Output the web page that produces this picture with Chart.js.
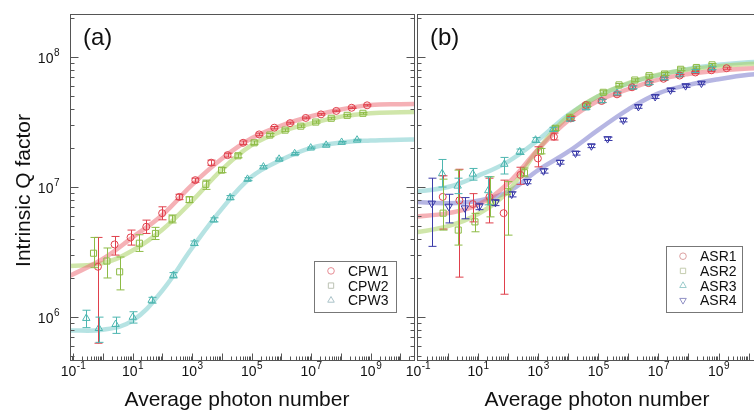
<!DOCTYPE html>
<html>
<head>
<meta charset="utf-8">
<script src="https://cdn.jsdelivr.net/npm/chart.js@4.4.1/dist/chart.umd.min.js"></script>
<style>
  html, body { margin: 0; padding: 0; background: #fff; overflow: hidden; }
  #wrap { position: relative; width: 754px; height: 410px; overflow: hidden; }
  #panelA { position: absolute; left: 0; top: 0; }
  #panelB { position: absolute; left: 400px; top: 0; }
</style>
</head>
<body>
<div id="wrap">
  <canvas id="panelA" width="420" height="410"></canvas>
  <canvas id="panelB" width="380" height="410"></canvas>
</div>
<script>
// ---- data ----
const xTickExps = [-1, 1, 3, 5, 7, 9];
const yTickExps = [6, 7, 8];

// panel (a): coplanar waveguides
const cpw1X = [0.69, 2.5, 8.6, 29, 99, 375, 1290, 4400, 15600, 52000, 1.8e5, 5.8e5, 1.96e6, 6.6e6, 2.15e7, 7.0e7, 2.3e8, 7.6e8];
const cpw1Y = [2.44e6, 3.62e6, 4.1e6, 4.95e6, 6.3e6, 8.4e6, 1.13e7, 1.54e7, 1.76e7, 2.19e7, 2.54e7, 2.86e7, 3.1e7, 3.4e7, 3.62e7, 3.85e7, 4.07e7, 4.25e7];
const cpw1Lo = [6.3e5, 3.0e6, 3.58e6, 4.4e6, 5.6e6, 8.0e6, 1.09e7, 1.47e7, 1.7e7, 2.12e7, 2.48e7, 2.8e7, 3.05e7, 3.35e7, 3.57e7, 3.8e7, 4.02e7, 4.2e7];
const cpw1Hi = [4.1e6, 4.17e6, 4.67e6, 5.57e6, 7.05e6, 8.8e6, 1.17e7, 1.61e7, 1.82e7, 2.26e7, 2.6e7, 2.92e7, 3.15e7, 3.45e7, 3.67e7, 3.9e7, 4.12e7, 4.3e7];

const cpw2X = [0.49, 1.38, 3.7, 17, 59, 214, 811, 2900, 9800, 3.5e4, 1.22e5, 4.1e5, 1.34e6, 4.5e6, 1.43e7, 4.75e7, 1.63e8, 5.5e8];
const cpw2Y = [3.1e6, 2.7e6, 2.23e6, 3.7e6, 4.4e6, 5.7e6, 8.0e6, 1.05e7, 1.35e7, 1.74e7, 2.19e7, 2.51e7, 2.74e7, 2.94e7, 3.16e7, 3.38e7, 3.56e7, 3.69e7];
const cpw2Lo = [2.4e6, 2.0e6, 1.62e6, 3.2e6, 3.95e6, 5.3e6, 7.6e6, 9.6e6, 1.29e7, 1.68e7, 2.12e7, 2.44e7, 2.68e7, 2.88e7, 3.1e7, 3.32e7, 3.5e7, 3.63e7];
const cpw2Hi = [4.1e6, 3.4e6, 2.9e6, 4.3e6, 4.9e6, 6.1e6, 8.4e6, 1.13e7, 1.41e7, 1.8e7, 2.26e7, 2.58e7, 2.8e7, 3.0e7, 3.22e7, 3.44e7, 3.62e7, 3.75e7];

const cpw3X = [0.28, 0.74, 2.7, 10.2, 44, 237, 1190, 5300, 1.9e4, 7.3e4, 2.5e5, 8.4e5, 2.8e6, 9.7e6, 3.2e7, 1.06e8, 3.5e8];
const cpw3Y = [9.8e5, 8.2e5, 8.8e5, 1.0e6, 1.35e6, 2.1e6, 3.7e6, 5.6e6, 8.3e6, 1.15e7, 1.43e7, 1.64e7, 1.81e7, 2.0e7, 2.1e7, 2.21e7, 2.3e7];
const cpw3Lo = [8.3e5, 6.4e5, 7.5e5, 9.0e5, 1.28e6, 2.0e6, 3.55e6, 5.4e6, 8.0e6, 1.12e7, 1.4e7, 1.61e7, 1.78e7, 1.97e7, 2.07e7, 2.18e7, 2.27e7];
const cpw3Hi = [1.13e6, 1.0e6, 1.0e6, 1.1e6, 1.42e6, 2.2e6, 3.85e6, 5.8e6, 8.6e6, 1.18e7, 1.46e7, 1.67e7, 1.84e7, 2.03e7, 2.13e7, 2.24e7, 2.33e7];

// fitted curves, sampled once per decade
const fitX = [0.07, 1, 10, 100, 1e3, 1e4, 1e5, 1e6, 1e7, 1e8, 1e9, 1e10, 5e10];
const fitCpw1 = [2.05e6, 2.8e6, 4.1e6, 6.1e6, 1.04e7, 1.65e7, 2.37e7, 2.97e7, 3.5e7, 3.95e7, 4.27e7, 4.33e7, 4.35e7];
const fitCpw2 = [2.47e6, 2.6e6, 3.25e6, 4.7e6, 7.8e6, 1.36e7, 2.1e7, 2.68e7, 3.08e7, 3.48e7, 3.7e7, 3.76e7, 3.78e7];
const fitCpw3 = [7.9e5, 8.0e5, 9.4e5, 1.6e6, 3.4e6, 6.8e6, 1.2e7, 1.62e7, 2.0e7, 2.2e7, 2.28e7, 2.31e7, 2.32e7];

// panel (b): ASR resonators
const asr1X = [0.67, 2.4, 6.7, 24, 71, 258, 980, 3350, 1.21e4, 3.85e4, 1.29e5, 4.2e5, 1.33e6, 4.7e6, 1.48e7, 5.1e7, 1.7e8, 5.8e8, 1.85e9];
const asr1Y = [8.4e6, 7.9e6, 7.4e6, 8.4e6, 6.3e6, 1.24e7, 1.66e7, 2.44e7, 3.37e7, 4.27e7, 4.59e7, 5.16e7, 5.85e7, 6.3e7, 6.8e7, 7.2e7, 7.6e7, 7.9e7, 8.2e7];
const asr1Lo = [4.75e6, 2.03e6, 5.4e6, 5.3e6, 1.5e6, 1.05e7, 1.43e7, 2.3e7, 3.25e7, 4.15e7, 4.46e7, 5.02e7, 5.7e7, 6.15e7, 6.65e7, 7.05e7, 7.45e7, 7.75e7, 8.05e7];
const asr1Hi = [1.22e7, 1.37e7, 8.9e6, 1.17e7, 1.13e7, 1.42e7, 2.04e7, 2.6e7, 3.5e7, 4.4e7, 4.72e7, 5.3e7, 6.0e7, 6.45e7, 6.95e7, 7.35e7, 7.75e7, 8.05e7, 8.35e7];

const asr2X = [0.69, 2.2, 7.9, 25.6, 97, 351, 1200, 3760, 1.12e4, 4.27e4, 1.47e5, 4.9e5, 1.64e6, 4.9e6, 1.6e7, 5.5e7, 1.84e8, 6.1e8];
const asr2Y = [6.3e6, 4.67e6, 5.4e6, 7.7e6, 9.2e6, 1.29e7, 1.89e7, 2.83e7, 3.44e7, 4.28e7, 5.35e7, 6.1e7, 6.65e7, 7.18e7, 7.4e7, 8.04e7, 8.3e7, 8.7e7];
const asr2Lo = [4.67e6, 3.58e6, 4.53e6, 5.9e6, 4.27e6, 1.2e7, 1.8e7, 2.72e7, 3.33e7, 4.16e7, 5.2e7, 5.95e7, 6.5e7, 7.0e7, 7.2e7, 7.85e7, 8.1e7, 8.5e7];
const asr2Hi = [1.15e7, 1.35e7, 6.28e6, 1.2e7, 1.1e7, 1.4e7, 1.98e7, 2.94e7, 3.55e7, 4.4e7, 5.5e7, 6.25e7, 6.8e7, 7.36e7, 7.6e7, 8.24e7, 8.5e7, 8.9e7];

const asr3X = [0.64, 2.1, 6.7, 22, 75, 244, 820, 3200, 1.15e4, 3.85e4, 1.29e5, 4.2e5, 1.4e6, 4.7e6, 1.58e7, 5.0e7, 1.7e8, 5.9e8];
const asr3Y = [1.27e7, 1.02e7, 1.26e7, 9.4e6, 1.5e7, 1.87e7, 2.3e7, 2.78e7, 3.32e7, 4.07e7, 4.6e7, 5.26e7, 5.85e7, 6.3e7, 6.85e7, 7.3e7, 7.8e7, 8.2e7];
const asr3Lo = [1.0e7, 8.9e6, 1.13e7, 7.3e6, 1.26e7, 1.78e7, 2.2e7, 2.68e7, 3.22e7, 3.96e7, 4.47e7, 5.12e7, 5.7e7, 6.15e7, 6.7e7, 7.12e7, 7.6e7, 8.0e7];
const asr3Hi = [1.63e7, 1.17e7, 1.39e7, 1.2e7, 1.69e7, 1.96e7, 2.4e7, 2.88e7, 3.42e7, 4.18e7, 4.73e7, 5.4e7, 6.0e7, 6.45e7, 7.0e7, 7.48e7, 8.0e7, 8.4e7];

const asr4X = [0.29, 1.06, 3.65, 11, 38, 132, 442, 1510, 5300, 1.75e4, 5.9e4, 2.04e5, 6.8e5, 2.16e6, 7.8e6, 2.54e7, 8.05e7, 2.7e8];
const asr4Y = [7.5e6, 7.1e6, 6.9e6, 7.1e6, 7.6e6, 8.8e6, 1.1e7, 1.33e7, 1.55e7, 1.82e7, 2.07e7, 2.35e7, 3.27e7, 4.15e7, 4.95e7, 5.57e7, 6.0e7, 6.28e7];
const asr4Lo = [3.5e6, 5.3e6, 5.7e6, 6.7e6, 7.2e6, 8.4e6, 1.06e7, 1.28e7, 1.5e7, 1.76e7, 2.01e7, 2.28e7, 3.17e7, 4.03e7, 4.8e7, 5.42e7, 5.84e7, 6.12e7];
const asr4Hi = [1.17e7, 8.8e6, 8.3e6, 7.5e6, 8.0e6, 9.2e6, 1.14e7, 1.38e7, 1.6e7, 1.88e7, 2.13e7, 2.42e7, 3.37e7, 4.27e7, 5.1e7, 5.72e7, 6.16e7, 6.44e7];

const fitAsr1 = [5.9e6, 6.3e6, 7.3e6, 1.07e7, 1.95e7, 3.25e7, 4.6e7, 5.65e7, 6.7e7, 7.4e7, 7.85e7, 8.15e7, 8.25e7];
const fitAsr2 = [4.45e6, 5.0e6, 6.2e6, 9.3e6, 1.95e7, 3.5e7, 5.0e7, 6.3e7, 7.3e7, 8.0e7, 8.5e7, 8.85e7, 8.95e7];
const fitAsr3 = [9.2e6, 1.0e7, 1.22e7, 1.57e7, 2.3e7, 3.6e7, 5.0e7, 6.25e7, 7.25e7, 8.1e7, 8.7e7, 9.1e7, 9.2e7];
const fitAsr4 = [7.7e6, 7.5e6, 7.85e6, 9.2e6, 1.35e7, 1.87e7, 2.75e7, 3.96e7, 5.25e7, 6.1e7, 6.75e7, 7.3e7, 7.45e7];

// ---- styling ----
const FONT = '"Liberation Sans", Arial, Helvetica, sans-serif';
const colors = {
    red: '#e0404c', green: '#8dbb45', cyan: '#4db6b0', blue: '#3a3aa8',
};
const fitColors = {
    red: 'rgba(236, 100, 110, 0.5)', green: 'rgba(170, 210, 100, 0.55)',
    cyan: 'rgba(110, 200, 200, 0.5)', blue: 'rgba(110, 110, 200, 0.5)',
};

function points(xs, ys, lo, hi) {
    return xs.map((x, i) => ({ x, y: ys[i], lo: lo[i], hi: hi[i] }));
}
function curve(xs, ys) {
    return xs.map((x, i) => ({ x, y: ys[i] }));
}

function markerSet(label, data, color, style, legendColor, rotation = 0) {
    return {
        label, data, errorBars: true, legendColor,
        showLine: false,
        borderColor: color, backgroundColor: 'transparent',
        pointStyle: style, pointRotation: rotation,
        pointRadius: style === 'circle' ? 3.5 : 4.3,
        pointBorderWidth: 1,
        order: 1,
    };
}
function fitSet(data, color) {
    return {
        data, showLine: true, fit: true,
        borderColor: color, borderWidth: 4.5,
        pointRadius: 0, tension: 0.4,
        order: 2,
    };
}

// superscript power-of-ten label drawn on the canvas
function drawPow(ctx, exp, x, baseY, align) {
    ctx.font = `14px ${FONT}`;
    const w1 = ctx.measureText('10').width;
    ctx.font = `10px ${FONT}`;
    const w2 = ctx.measureText(String(exp)).width;
    const left = align === 'center' ? x - (w1 + w2) / 2 : x - (w1 + w2);
    ctx.textAlign = 'left';
    ctx.textBaseline = 'alphabetic';
    ctx.font = `14px ${FONT}`;
    ctx.fillText('10', left, baseY);
    ctx.font = `10px ${FONT}`;
    ctx.fillText(String(exp), left + w1 + 0.5, baseY - 7);
}

const decor = {
    id: 'decor',
    afterDatasetsDraw(chart) {
        const { ctx, chartArea: a, scales: { x, y } } = chart;
        ctx.save();
        ctx.beginPath();
        ctx.rect(a.left, a.top, a.right - a.left, a.bottom - a.top);
        ctx.clip();
        ctx.lineWidth = 1;
        chart.data.datasets.forEach(ds => {
            if (!ds.errorBars) return;
            ctx.strokeStyle = ds.borderColor;
            ds.data.forEach(p => {
                const px = Math.round(x.getPixelForValue(p.x)) + 0.5;
                const top = y.getPixelForValue(p.hi);
                const bot = y.getPixelForValue(p.lo);
                ctx.beginPath();
                ctx.moveTo(px, top); ctx.lineTo(px, bot);
                ctx.moveTo(px - 4, top); ctx.lineTo(px + 4, top);
                ctx.moveTo(px - 4, bot); ctx.lineTo(px + 4, bot);
                ctx.stroke();
            });
        });
        ctx.restore();
    },
    afterDraw(chart, args, opts) {
        const { ctx, chartArea: a, scales: { x, y } } = chart;
        ctx.save();
        ctx.strokeStyle = '#555';
        ctx.lineWidth = 1;
        const L = Math.round(a.left) + 0.5, R = Math.round(a.right) - 0.5;
        const T = Math.round(a.top) + 0.5, B = Math.round(a.bottom) - 0.5;
        ctx.strokeRect(L, T, R - L, B - T);

        // inward ticks
        ctx.beginPath();
        for (let e = -2; e <= 11; e++) {
            for (let k = 1; k <= 9; k++) {
                const v = k * Math.pow(10, e);
                const px = x.getPixelForValue(v);
                if (px > a.left + 1 && px < a.right - 1) {
                    const len = k === 1 ? 7 : 4;
                    const xx = Math.round(px) + 0.5;
                    ctx.moveTo(xx, B); ctx.lineTo(xx, B - len);
                }
                const py = y.getPixelForValue(v);
                if (py > a.top + 1 && py < a.bottom - 1) {
                    const len = k === 1 ? 8 : 4;
                    const yy = Math.round(py) + 0.5;
                    ctx.moveTo(L, yy); ctx.lineTo(L + len, yy);
                    ctx.moveTo(R, yy); ctx.lineTo(R - len, yy);
                }
            }
        }
        ctx.stroke();

        ctx.fillStyle = '#111';
        xTickExps.forEach(e => drawPow(ctx, e, x.getPixelForValue(Math.pow(10, e)), a.bottom + 15, 'center'));
        if (opts.yLabels) {
            yTickExps.forEach(e => drawPow(ctx, e, a.left - 11, y.getPixelForValue(Math.pow(10, e)) + 6, 'right'));
            ctx.save();
            ctx.translate(30, (a.top + a.bottom) / 2 + 3);
            ctx.rotate(-Math.PI / 2);
            ctx.font = `21px ${FONT}`;
            ctx.textAlign = 'center';
            ctx.fillText('Intrinsic Q factor', 0, 0);
            ctx.restore();
        }
        ctx.font = `21px ${FONT}`;
        ctx.textAlign = 'center';
        ctx.fillText('Average photon number', a.left + opts.titleX, 406);

        ctx.font = `24px ${FONT}`;
        ctx.textAlign = 'left';
        ctx.fillText(opts.panel, a.left + 13, 45);

        // legend box
        const sets = chart.data.datasets.filter(d => d.errorBars);
        const bx = a.left + opts.legendX, bw = opts.legendW;
        const bh = sets.length * 14.7 + 7;
        const by = a.bottom - 49 - bh;
        ctx.strokeStyle = '#777';
        ctx.strokeRect(Math.round(bx) + 0.5, Math.round(by) + 0.5, bw, Math.round(bh));
        ctx.font = `14px ${FONT}`;
        sets.forEach((d, i) => {
            const base = by + 15 + i * 14.7;
            ctx.fillStyle = '#111';
            ctx.fillText(d.label, bx + 34, base);
            ctx.strokeStyle = d.legendColor;
            ctx.fillStyle = 'rgba(0, 0, 0, 0)';
            ctx.lineWidth = 1;
            Chart.helpers.drawPoint(ctx, {
                pointStyle: d.pointStyle, rotation: d.pointRotation,
                radius: d.pointStyle === 'circle' ? 3.3 : 3.8, borderWidth: 1,
            }, bx + 17, base - 5);
        });
        ctx.restore();
    },
};

function makeChart(id, datasets, xMin, padding, opts) {
    return new Chart(document.getElementById(id), {
        type: 'scatter',
        data: { datasets },
        options: {
            responsive: false,
            animation: false,
            events: [],
            layout: { padding },
            scales: {
                x: { type: 'logarithmic', display: false, min: xMin, max: Math.pow(10, 10.48) },
                y: { type: 'logarithmic', display: false, min: 4.6e5, max: 2.14e8 },
            },
            plugins: {
                legend: { display: false },
                tooltip: { enabled: false },
                decor: opts,
            },
        },
        plugins: [decor],
    });
}

makeChart('panelA', [
    markerSet('CPW1', points(cpw1X, cpw1Y, cpw1Lo, cpw1Hi), colors.red, 'circle', '#e58a92'),
    markerSet('CPW2', points(cpw2X, cpw2Y, cpw2Lo, cpw2Hi), colors.green, 'rect', '#bcc2b4'),
    markerSet('CPW3', points(cpw3X, cpw3Y, cpw3Lo, cpw3Hi), colors.cyan, 'triangle', '#aac2c8'),
    fitSet(curve(fitX, fitCpw1), fitColors.red),
    fitSet(curve(fitX, fitCpw2), fitColors.green),
    fitSet(curve(fitX, fitCpw3), fitColors.cyan),
], Math.pow(10, -1.1), { left: 70, top: 14, right: 4, bottom: 49 },
{ yLabels: true, panel: '(a)', titleX: 167, legendX: 244, legendW: 82 });

makeChart('panelB', [
    markerSet('ASR1', points(asr1X, asr1Y, asr1Lo, asr1Hi), colors.red, 'circle', '#dba0a0'),
    markerSet('ASR2', points(asr2X, asr2Y, asr2Lo, asr2Hi), colors.green, 'rect', '#c4ccae'),
    markerSet('ASR3', points(asr3X, asr3Y, asr3Lo, asr3Hi), colors.cyan, 'triangle', '#9ccccc'),
    markerSet('ASR4', points(asr4X, asr4Y, asr4Lo, asr4Hi), colors.blue, 'triangle', '#9090c4', 180),
    fitSet(curve(fitX, fitAsr1), fitColors.red),
    fitSet(curve(fitX, fitAsr2), fitColors.green),
    fitSet(curve(fitX, fitAsr3), fitColors.cyan),
    fitSet(curve(fitX, fitAsr4), fitColors.blue),
], Math.pow(10, -1.03), { left: 17, top: 14, right: 17, bottom: 49 },
{ yLabels: false, panel: '(b)', titleX: 180, legendX: 249, legendW: 76 });
</script>
</body>
</html>
